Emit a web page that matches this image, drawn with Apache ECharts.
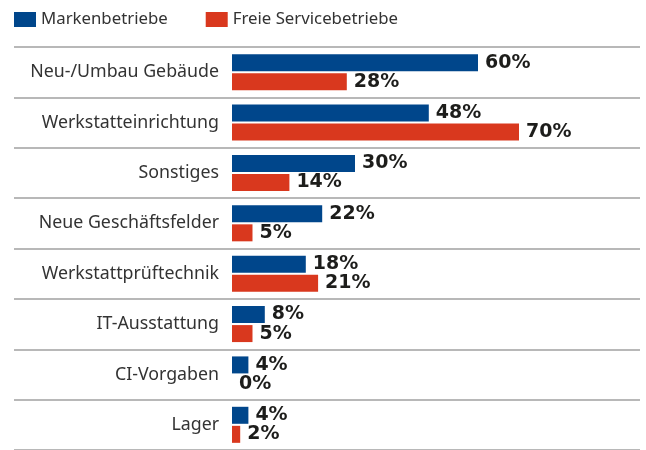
<!DOCTYPE html>
<html>
<head>
<meta charset="utf-8">
<script src="https://cdn.jsdelivr.net/npm/echarts@6/dist/echarts.min.js"></script>
<style>
  html, body { margin: 0; padding: 0; background: #fff; }
  #main { width: 646px; height: 450px; }
</style>
</head>
<body>
<div id="main"></div>
<script>
// Kategorien von oben nach unten
var categories = ['Neu-/Umbau Gebäude', 'Werkstatteinrichtung', 'Sonstiges', 'Neue Geschäftsfelder',
  'Werkstattprüftechnik', 'IT-Ausstattung', 'CI-Vorgaben', 'Lager'];
var markenbetriebe = [60, 48, 30, 22, 18, 8, 4, 4];
var freieBetriebe = [28, 70, 14, 5, 21, 5, 0, 2];

var fontFamily = '"Noto Sans", "Open Sans", sans-serif';

var chart = echarts.init(document.getElementById('main'));

var valueLabel = {
  show: true,
  position: 'right',
  distance: 7,
  formatter: '{c}%',
  fontFamily: '"DejaVu Sans", sans-serif',
  fontWeight: 'bold',
  fontSize: 19,
  color: '#1d1d1b'
};

chart.setOption({
  animation: false,
  legend: {
    left: 14,
    top: 11,
    padding: 0,
    itemWidth: 22,
    itemHeight: 15,
    itemGap: 38,
    icon: 'rect',
    textStyle: { fontFamily: fontFamily, fontSize: 16.8, color: '#333' },
    data: ['Markenbetriebe', 'Freie Servicebetriebe']
  },
  grid: [
    // Trennlinien ueber die ganze Breite
    { left: 14, right: 6, top: 47, height: 408 },
    // Balken
    { left: 232, right: 4, top: 47, height: 408 }
  ],
  xAxis: [
    { gridIndex: 0, type: 'value', show: false },
    { gridIndex: 1, type: 'value', min: 0, max: 100, show: false }
  ],
  yAxis: [
    {
      gridIndex: 0, type: 'category', inverse: true, data: categories,
      axisLine: { show: false }, axisTick: { show: false }, axisLabel: { show: false },
      splitLine: { show: true, lineStyle: { color: '#b8b8b8', width: 2 } }
    },
    {
      gridIndex: 1, type: 'category', inverse: true, data: categories,
      axisLine: { show: false }, axisTick: { show: false },
      splitLine: { show: false },
      axisLabel: { margin: 13, fontFamily: fontFamily, fontSize: 17.8, color: '#333' }
    }
  ],
  series: [
    {
      name: 'Markenbetriebe', type: 'bar', xAxisIndex: 1, yAxisIndex: 1,
      data: markenbetriebe, barWidth: 17, barGap: '12%',
      itemStyle: { color: '#00468b' }, label: valueLabel
    },
    {
      name: 'Freie Servicebetriebe', type: 'bar', xAxisIndex: 1, yAxisIndex: 1,
      data: freieBetriebe, barWidth: 17,
      itemStyle: { color: '#d9381e' }, label: valueLabel
    }
  ]
});
</script>
</body>
</html>
